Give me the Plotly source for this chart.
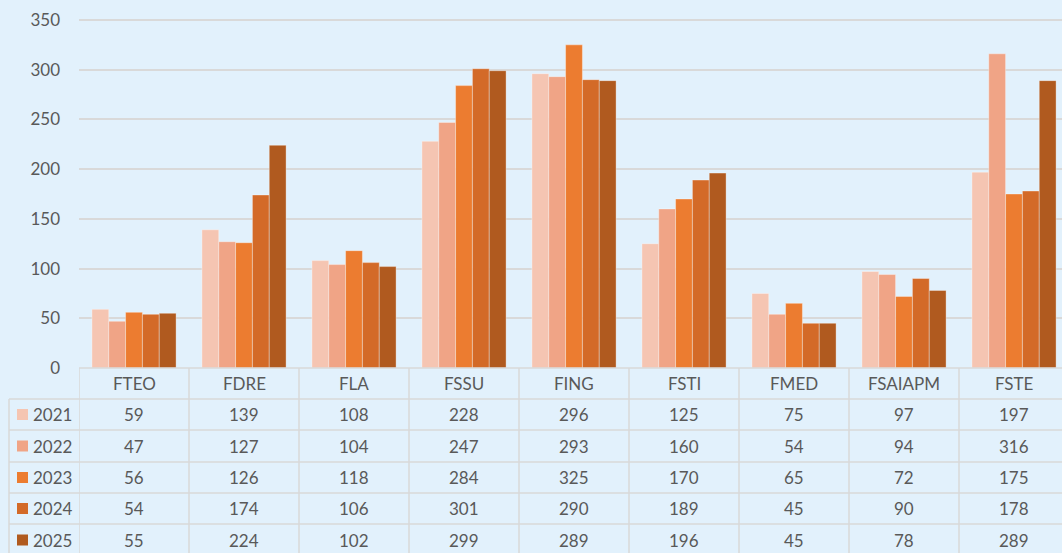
import plotly.graph_objects as go

categories = ["FTEO", "FDRE", "FLA", "FSSU", "FING", "FSTI", "FMED", "FSAIAPM", "FSTE"]
years = ["2021", "2022", "2023", "2024", "2025"]
v2021 = [59, 139, 108, 228, 296, 125, 75, 97, 197]
v2022 = [47, 127, 104, 247, 293, 160, 54, 94, 316]
v2023 = [56, 126, 118, 284, 325, 170, 65, 72, 175]
v2024 = [54, 174, 106, 301, 290, 189, 45, 90, 178]
v2025 = [55, 224, 102, 299, 289, 196, 45, 78, 289]
series = [v2021, v2022, v2023, v2024, v2025]
colors = ["#F5C5B2", "#F0A486", "#EC7C30", "#D36A28", "#B05A1F"]

W, H = 1062, 553
BG = "#E2F1FC"
GRID = "#D9D9D9"
TXT = "#595959"
FONT = "Lato, Open Sans, sans-serif"

def py(p):
    return 1 - p / H

plot_left = 79
cat_w = 110
n = len(categories)
x_max = -0.5 + (W - plot_left) / cat_w

fig = go.Figure()
for yr, vals, c in zip(years, series, colors):
    fig.add_trace(go.Bar(
        x=categories, y=vals, name=yr,
        marker=dict(color=c, line=dict(color="rgba(255,255,255,0.35)", width=1)),
        showlegend=False, hoverinfo="skip",
    ))

row_edges = [368, 399, 430, 462, 493, 524, 556]
shapes = []
shapes.append(dict(type="line", xref="paper", yref="paper",
                   x0=plot_left / W, x1=1, y0=py(row_edges[0]), y1=py(row_edges[0]),
                   line=dict(color=GRID, width=1.5)))
for e in row_edges[1:-1]:
    shapes.append(dict(type="line", xref="paper", yref="paper",
                       x0=9 / W, x1=1, y0=py(e), y1=py(e),
                       line=dict(color=GRID, width=1.5)))
shapes.append(dict(type="line", xref="paper", yref="paper",
                   x0=9 / W, x1=9 / W, y0=py(row_edges[1]), y1=0,
                   line=dict(color=GRID, width=1.5)))
for i in range(n + 1):
    shapes.append(dict(type="line", xref="x", yref="paper",
                       x0=i - 0.5, x1=i - 0.5, y0=py(row_edges[0]), y1=0,
                       line=dict(color=GRID, width=1.5)))

annotations = []
for c in categories:
    annotations.append(dict(x=c, xref="x", y=py((row_edges[0] + row_edges[1]) / 2), yref="paper",
                            text=c, showarrow=False, font=dict(size=17, color=TXT, family=FONT),
                            xanchor="center", yanchor="middle"))
for r, (yr, vals, col) in enumerate(zip(years, series, colors)):
    yc = (row_edges[r + 1] + row_edges[r + 2]) / 2
    for c, v in zip(categories, vals):
        annotations.append(dict(x=c, xref="x", y=py(yc), yref="paper", text=str(v),
                                showarrow=False, font=dict(size=17, color=TXT, family=FONT),
                                xanchor="center", yanchor="middle"))
    annotations.append(dict(x=31 / W, xref="paper", y=py(yc), yref="paper", text=yr,
                            showarrow=False, font=dict(size=17, color=TXT, family=FONT),
                            xanchor="left", yanchor="middle"))
    shapes.append(dict(type="rect", xref="paper", yref="paper",
                       x0=17 / W, x1=28 / W, y0=py(yc + 5.5), y1=py(yc - 5.5),
                       fillcolor=col, line=dict(width=0)))

y_top = 350 * 368 / 348

fig.update_layout(
    template="none",
    width=W, height=H, autosize=False,
    margin=dict(l=0, r=0, t=0, b=0, pad=0, autoexpand=False),
    paper_bgcolor=BG, plot_bgcolor=BG,
    barmode="group", bargap=0.235, bargroupgap=0,
    font=dict(family=FONT, color=TXT, size=17),
    xaxis=dict(domain=[plot_left / W, 1], range=[-0.5, x_max], showticklabels=False,
               ticks="", automargin=False,
               showgrid=False, zeroline=False, showline=False, fixedrange=True),
    yaxis=dict(domain=[py(368), 1], range=[0, y_top], tickvals=[0, 50, 100, 150, 200, 250, 300, 350],
               ticks="", automargin=False,
               showgrid=True, gridcolor=GRID, gridwidth=1.5, zeroline=False, showline=False,
               fixedrange=True,
               ticklabelstandoff=18, tickfont=dict(size=17, color=TXT, family=FONT)),
    shapes=shapes, annotations=annotations,
)

fig.write_html("out.html",
               config={"responsive": False, "displayModeBar": False},
               post_script="document.body.style.margin='0';document.body.style.overflow='hidden';")
